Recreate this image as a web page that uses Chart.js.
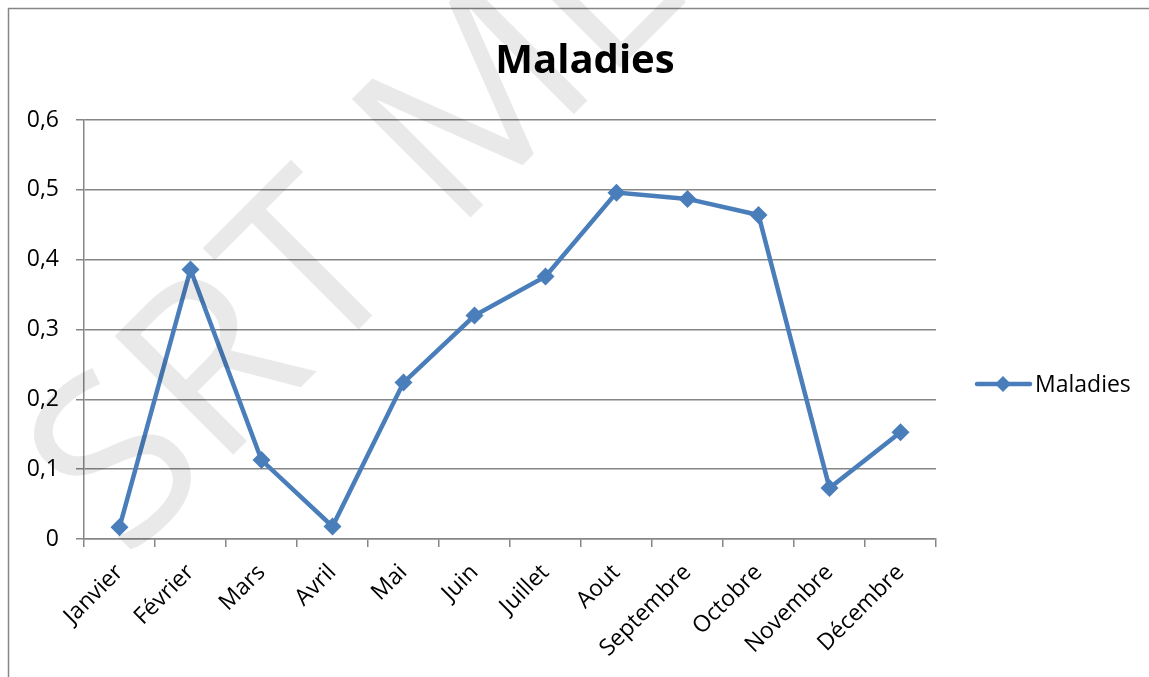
<!DOCTYPE html>
<html>
<head>
<meta charset="utf-8">
<script src="https://cdn.jsdelivr.net/npm/chart.js@4"></script>
<style>
  html, body { margin: 0; padding: 0; background: #fff; }
  #wrap { width: 1149px; height: 677px; }
</style>
</head>
<body>
<div id="wrap"><canvas id="myChart" width="1149" height="677"></canvas></div>
<script>
// Data
let title = "Maladies";
const months = ["Janvier", "Février", "Mars", "Avril", "Mai", "Juin", "Juillet", "Aout", "Septembre", "Octobre", "Novembre", "Décembre"];
const maladies = [0.017, 0.386, 0.113, 0.018, 0.224, 0.320, 0.376, 0.496, 0.487, 0.464, 0.073, 0.153];
const yTicks = ["0", "0,1", "0,2", "0,3", "0,4", "0,5", "0,6"];

const blue = "#4a7ebb";
const gridGray = "#868686";
const font = "'Open Sans', sans-serif";

// frame, title, legend and watermark drawn by hand
const extras = {
  id: "extras",
  beforeDraw(chart) {
    const c = chart.ctx;
    c.save();
    c.fillStyle = "#fff";
    c.fillRect(0, 0, chart.width, chart.height);
    c.strokeStyle = gridGray;
    c.lineWidth = 1.5;
    c.strokeRect(8.5, 8.5, 1200, 800);
    c.restore();
  },
  afterDraw(chart) {
    const c = chart.ctx;
    c.save();
    // title
    c.fillStyle = "#000";
    c.font = "bold 40px " + font;
    c.textAlign = "center";
    c.textBaseline = "alphabetic";
    c.fillText(title, 585, 73);
    // legend
    const ly = 384;
    c.strokeStyle = blue;
    c.lineWidth = 4.5;
    c.lineCap = "round";
    c.beginPath();
    c.moveTo(977, ly);
    c.lineTo(1030, ly);
    c.stroke();
    c.fillStyle = blue;
    c.beginPath();
    c.moveTo(1003, ly - 8);
    c.lineTo(1011, ly);
    c.lineTo(1003, ly + 8);
    c.lineTo(995, ly);
    c.closePath();
    c.fill();
    c.fillStyle = "#000";
    c.font = "23px " + font;
    c.textAlign = "left";
    c.textBaseline = "middle";
    c.fillText("Maladies", 1035, ly + 1);
    // watermark
    c.translate(126, 562);
    c.rotate(-45 * Math.PI / 180);
    c.fillStyle = "rgba(0,0,0,0.085)";
    c.font = "235px " + font;
    c.textAlign = "left";
    c.textBaseline = "alphabetic";
    c.fillText("SRT ME", 0, 0);
    c.restore();
  }
};

const ctx = document.getElementById("myChart").getContext("2d");
const myChart = new Chart(ctx, {
  type: "line",
  data: {
    labels: months,
    datasets: [
      {
        label: "Maladies",
        data: maladies,
        borderColor: blue,
        backgroundColor: blue,
        borderWidth: 4.5,
        pointStyle: "rectRot",
        pointRadius: 9,
        pointHoverRadius: 9,
        pointBorderWidth: 0,
        tension: 0,
      },
    ],
  },
  options: {
    responsive: false,
    animation: false,
    layout: { padding: { left: 8, right: 213, top: 120, bottom: 0 } },
    plugins: {
      legend: { display: false },
      title: { display: false },
      tooltip: { enabled: false },
    },
    scales: {
      x: {
        offset: true,
        grid: { offset: true, drawOnChartArea: false, color: gridGray, tickLength: 8, lineWidth: 1.5 },
        border: { color: gridGray, width: 1.5 },
        ticks: { color: "#000", font: { family: font, size: 23 }, minRotation: 45, maxRotation: 45, autoSkip: false, padding: 12 },
        afterFit(scale) { scale.height = 138; },
      },
      y: {
        min: 0,
        max: 0.6,
        ticks: {
          stepSize: 0.1,
          color: "#000",
          font: { family: font, size: 23 },
          padding: 17,
          callback: (v, i) => yTicks[i],
        },
        grid: { color: gridGray, tickLength: 8, lineWidth: 1.5 },
        border: { color: gridGray, width: 1.5 },
        afterFit(scale) { scale.width = 76; },
      },
    },
  },
  plugins: [extras],
});
</script>
</body>
</html>
